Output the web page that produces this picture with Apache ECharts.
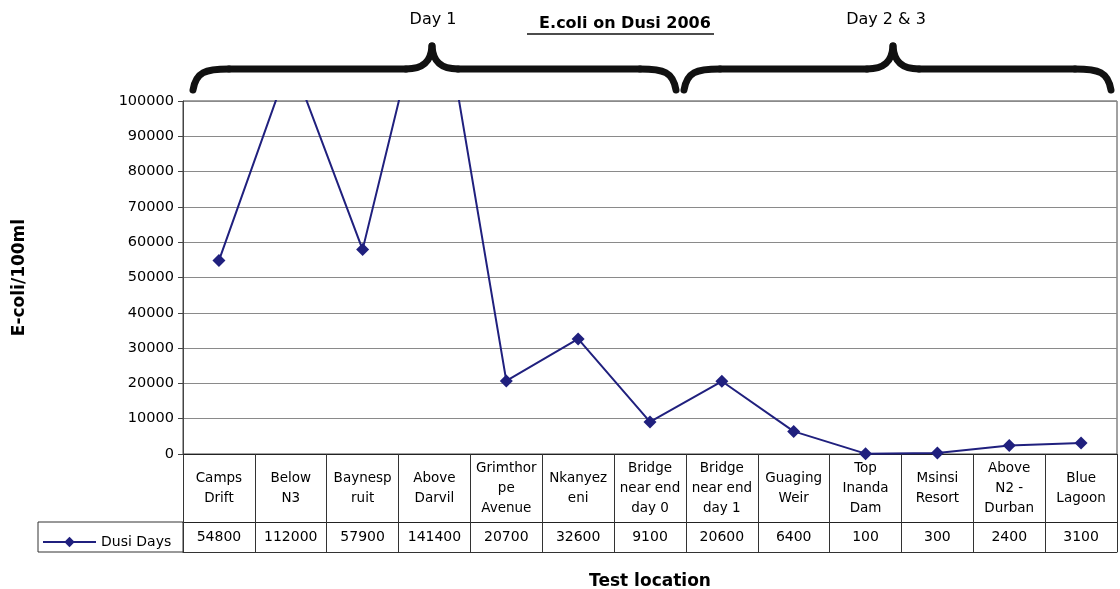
<!DOCTYPE html>
<html>
<head>
<meta charset="utf-8">
<title>E.coli on Dusi 2006</title>
<script src="https://cdn.jsdelivr.net/npm/echarts@6/dist/echarts.min.js"></script>
<style>
  html, body { margin: 0; padding: 0; background: #fff; }
  #chart { width: 1120px; height: 589px; }
</style>
</head>
<body>
<div id="chart"></div>
<script>
// test locations (line breaks as in the table header)
const locations = [
  'Camps\nDrift', 'Below\nN3', 'Baynesp\nruit', 'Above\nDarvil', 'Grimthor\npe\nAvenue',
  'Nkanyez\neni', 'Bridge\nnear end\nday 0', 'Bridge\nnear end\nday 1', 'Guaging\nWeir',
  'Top\nInanda\nDam', 'Msinsi\nResort', 'Above\nN2 -\nDurban', 'Blue\nLagoon'
];
const dusiDays = [54800, 112000, 57900, 141400, 20700, 32600, 9100, 20600, 6400, 100, 300, 2400, 3100];
const yTicks = { min: 0, max: 100000, interval: 10000 };

const font = '"DejaVu Sans", Arial, sans-serif';
const lineColor = '#20207e';

// curly brace made of bezier pieces: ends at left/right, tip at mid
function brace(left, mid, right) {
  const yEnd = 90, yBar = 69, yTip = 46
  const st = { fill: 'none', stroke: '#111', lineWidth: 7, lineCap: 'round' }
  return [
    { type: 'bezierCurve', shape: { x1: left, y1: yEnd, cpx1: left + 3, cpy1: yBar + 3, cpx2: left + 12, cpy2: yBar, x2: left + 36, y2: yBar }, style: st },
    { type: 'line', shape: { x1: left + 36, y1: yBar, x2: mid - 26, y2: yBar }, style: st },
    { type: 'bezierCurve', shape: { x1: mid - 26, y1: yBar, cpx1: mid - 8, cpy1: yBar, cpx2: mid - 1, cpy2: yBar - 8, x2: mid, y2: yTip }, style: st },
    { type: 'bezierCurve', shape: { x1: mid, y1: yTip, cpx1: mid + 1, cpy1: yBar - 8, cpx2: mid + 8, cpy2: yBar, x2: mid + 26, y2: yBar }, style: st },
    { type: 'line', shape: { x1: mid + 26, y1: yBar, x2: right - 36, y2: yBar }, style: st },
    { type: 'bezierCurve', shape: { x1: right - 36, y1: yBar, cpx1: right - 12, cpy1: yBar, cpx2: right - 3, cpy2: yBar + 3, x2: right, y2: yEnd }, style: st }
  ]
}

const chart = echarts.init(document.getElementById('chart'));

const option = {
  animation: false,
  textStyle: { fontFamily: font },
  title: {
    text: 'E.coli on Dusi 2006',
    left: 620,
    textAlign: 'center',
    top: 11,
    textStyle: { fontFamily: font, fontSize: 16, fontWeight: 'bold', color: '#000' }
  },
  legend: {
    left: 37,
    top: 530,
    itemWidth: 53,
    itemHeight: 13,
    itemGap: 3,
    textStyle: { fontFamily: font, fontSize: 14, color: '#000' },
    data: ['Dusi Days']
  },
  grid: {
    left: 183,
    right: 3,
    top: 101,
    bottom: 135,
    containLabel: false,
    outerBoundsMode: 'none',
    show: true,
    borderColor: '#444',
    borderWidth: 1
  },
  xAxis: [
    { // category header row of the table
      type: 'category',
      data: locations,
      position: 'bottom',
      boundaryGap: true,
      axisLine: { lineStyle: { color: '#222', width: 1 } },
      axisTick: { show: true, length: 98, interval: 0, lineStyle: { color: '#333' } },
      axisLabel: {
        interval: 0,
        margin: 34,
        verticalAlign: 'middle',
        fontSize: 13.5,
        lineHeight: 20,
        color: '#000',
        fontFamily: font
      },
      splitLine: { show: false }
    },
    { // value row of the table
      type: 'category',
      data: dusiDays.map(v => String(v)),
      position: 'bottom',
      offset: 68,
      boundaryGap: true,
      axisLine: { lineStyle: { color: '#222', width: 1 } },
      axisTick: { show: false },
      axisLabel: {
        interval: 0,
        margin: 15,
        verticalAlign: 'middle',
        fontSize: 14,
        color: '#000',
        fontFamily: font
      }
    },
    { // bottom edge of the table + axis title
      type: 'category',
      data: locations,
      position: 'bottom',
      offset: 98,
      axisLine: { lineStyle: { color: '#333', width: 1 } },
      axisTick: { show: false },
      axisLabel: { show: false },
      name: 'Test location',
      nameLocation: 'middle',
      nameGap: 21,
      nameTextStyle: { fontFamily: font, fontSize: 17, fontWeight: 'bold', color: '#000' }
    }
  ],
  yAxis: {
    type: 'value',
    min: yTicks.min,
    max: yTicks.max,
    interval: yTicks.interval,
    name: 'E-coli/100ml',
    nameLocation: 'middle',
    nameGap: 155,
    nameTextStyle: { fontFamily: font, fontSize: 17, fontWeight: 'bold', color: '#000' },
    axisLine: { show: true, lineStyle: { color: '#444' } },
    axisTick: { show: true, length: 5, lineStyle: { color: '#444' } },
    axisLabel: { fontSize: 14.5, color: '#000', margin: 9, fontFamily: font, formatter: v => String(v) },
    splitLine: { show: true, lineStyle: { color: '#8a8a8a', width: 1 } }
  },
  series: [
    {
      name: 'Dusi Days',
      type: 'line',
      data: dusiDays,
      clip: true,
      symbol: 'diamond',
      symbolSize: 13,
      itemStyle: { color: lineColor },
      lineStyle: { color: lineColor, width: 2 }
    }
  ],
  graphic: [
    // legend cell of the table
    { type: 'rect', shape: { x: 38, y: 522, width: 145, height: 30 },
      style: { fill: 'none', stroke: '#333', lineWidth: 1 } },
    // title underline
    { type: 'line', shape: { x1: 527, y1: 34, x2: 714, y2: 34 },
      style: { stroke: '#111', lineWidth: 1.5 } },
    // day labels
    { type: 'text', x: 433, y: 20, style: { text: 'Day 1', font: '16px ' + font, fill: '#000', align: 'center', verticalAlign: 'middle' } },
    { type: 'text', x: 886, y: 20, style: { text: 'Day 2 & 3', font: '16px ' + font, fill: '#000', align: 'center', verticalAlign: 'middle' } }
  ].concat(brace(193, 432, 676), brace(684, 893, 1111))
};

chart.setOption(option);
</script>
</body>
</html>
